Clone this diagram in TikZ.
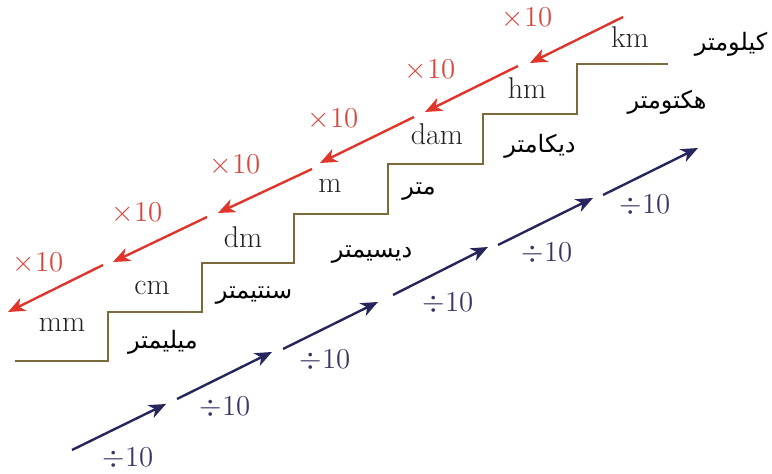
\documentclass[tikz,border=0pt]{standalone}
\usepackage{fontspec}
\usetikzlibrary{arrows.meta}
\newfontfamily\arabicfont[Script=Arabic]{DejaVu Sans}
\TeXXeTstate=1
\definecolor{stairc}{HTML}{7D6A3C}
\definecolor{redarr}{HTML}{E0352B}
\definecolor{redtxt}{HTML}{D9483F}
\definecolor{bluearr}{HTML}{26265C}
\definecolor{bluetxt}{HTML}{3A3566}
\definecolor{unittxt}{HTML}{222222}
\tikzset{
  unit/.style={text=unittxt, font=\fontsize{15}{18}\selectfont, inner sep=0pt},
  arab/.style={text=black, font=\fontsize{12}{15}\selectfont\arabicfont, inner sep=0pt},
  mul/.style={text=redtxt, font=\fontsize{15}{18}\selectfont, inner sep=0pt},
  dvd/.style={text=bluetxt, font=\fontsize{15}{18}\selectfont, inner sep=0pt},
  redarrow/.style={draw=redarr, line width=1.2pt, -{Stealth[length=8.5pt,width=7pt,inset=2.5pt]}},
  bluearrow/.style={draw=bluearr, line width=1.2pt, -{Stealth[length=8.5pt,width=7pt,inset=2.5pt]}},
  stair/.style={draw=stairc, line width=1.2pt}
}
\begin{document}
\begin{tikzpicture}[x=0.5pt,y=-0.5pt]
\useasboundingbox (0,0) rectangle (772,474);
% staircase
\draw[stair] (15,361) -- (108,361) -- (108,312) -- (202,312) -- (202,263) -- (294,263) -- (294,214) -- (388,214) -- (388,164) -- (483,164) -- (483,114) -- (577,114) -- (577,64) -- (668,64);
% unit labels
\node[unit] (mm) at (62,325) {mm};
\node[unit] (cm) at (152,288) {cm};
\node[unit] (dm) at (243,237) {dm};
\node[unit] (m) at (330,186) {m};
\node[unit] (dam) at (437,134) {dam};
\node[unit] (hm) at (527,88) {hm};
\node[unit] (km) at (630,37) {km};
% arabic labels
\node[arab] (amm) at (163,342) {\beginR ميليمتر\endR};
\node[arab] (acm) at (254,296) {\beginR سنتيمتر\endR};
\node[arab] (adm) at (372,255) {\beginR ديسيمتر\endR};
\node[arab] (am) at (419,192) {\beginR متر\endR};
\node[arab] (adam) at (540,146) {\beginR ديكامتر\endR};
\node[arab] (ahm) at (667,102) {\beginR هكتومتر\endR};
\node[arab] (akm) at (731,44) {\beginR كيلومتر\endR};
% red arrow coordinates
\coordinate (rs1) at (623,17);  \coordinate (re1) at (530,63);
\coordinate (rs2) at (518,66);  \coordinate (re2) at (425,112);
\coordinate (rs3) at (414,117); \coordinate (re3) at (320,163);
\coordinate (rs4) at (312,169); \coordinate (re4) at (218,213);
\coordinate (rs5) at (207,217); \coordinate (re5) at (113,262);
\coordinate (rs6) at (103,265); \coordinate (re6) at (8,312);
\foreach \i in {1,...,6} { \draw[redarrow] (rs\i) -- (re\i); }
\node[mul] (x1) at (527,18) {$\times10$};
\node[mul] (x2) at (430,70) {$\times10$};
\node[mul] (x3) at (333,119) {$\times10$};
\node[mul] (x4) at (235,165) {$\times10$};
\node[mul] (x5) at (137,213) {$\times10$};
\node[mul] (x6) at (38,263) {$\times10$};
% blue arrow coordinates
\coordinate (bs1) at (72,450);  \coordinate (be1) at (166,404);
\coordinate (bs2) at (177,399); \coordinate (be2) at (272,352);
\coordinate (bs3) at (283,349); \coordinate (be3) at (378,302);
\coordinate (bs4) at (393,295); \coordinate (be4) at (488,247);
\coordinate (bs5) at (498,245); \coordinate (be5) at (593,198);
\coordinate (bs6) at (603,195); \coordinate (be6) at (698,148);
\foreach \i in {1,...,6} { \draw[bluearrow] (bs\i) -- (be\i); }
\node[dvd] (d1) at (128,458) {$\div10$};
\node[dvd] (d2) at (225,407) {$\div10$};
\node[dvd] (d3) at (325,360) {$\div10$};
\node[dvd] (d4) at (448,303) {$\div10$};
\node[dvd] (d5) at (547,253) {$\div10$};
\node[dvd] (d6) at (645,205) {$\div10$};
\end{tikzpicture}
\end{document}
